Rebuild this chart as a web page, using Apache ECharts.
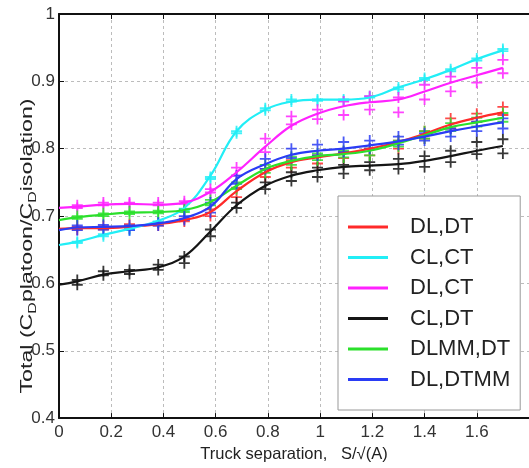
<!DOCTYPE html>
<html><head><meta charset="utf-8">
<script src="https://cdn.jsdelivr.net/npm/echarts@6/dist/echarts.min.js"></script>
<style>html,body{margin:0;padding:0;background:#fff}#c{width:529px;height:468px}</style>
</head><body><div id="c"></div>
<script>
// x positions of the measurement points (S/sqrt(A))
const xPts = [0.07,0.17,0.27,0.38,0.48,0.58,0.68,0.79,0.89,0.99,1.09,1.19,1.30,1.40,1.50,1.60,1.70];
// fitted curve x positions (start at 0)
const fitX = [0,0.07,0.17,0.27,0.38,0.48,0.58,0.68,0.79,0.89,0.99,1.09,1.19,1.30,1.40,1.50,1.60,1.70];

const names = ['DL,DT','CL,CT','DL,CT','CL,DT','DLMM,DT','DL,DTMM'];

// fitted curves
const fitDLDT   = [0.681,0.682,0.682,0.684,0.688,0.694,0.706,0.737,0.765,0.780,0.787,0.793,0.800,0.810,0.822,0.836,0.846,0.854];
const fitCLCT   = [0.657,0.662,0.672,0.681,0.693,0.712,0.760,0.826,0.858,0.870,0.873,0.873,0.876,0.891,0.903,0.917,0.933,0.946];
const fitDLCT   = [0.712,0.714,0.717,0.718,0.717,0.720,0.736,0.765,0.803,0.834,0.852,0.863,0.869,0.873,0.885,0.898,0.909,0.920];
const fitCLDT   = [0.598,0.603,0.613,0.618,0.624,0.640,0.677,0.716,0.745,0.760,0.768,0.773,0.775,0.777,0.782,0.789,0.797,0.804];
const fitDLMMDT = [0.694,0.698,0.702,0.705,0.706,0.709,0.721,0.745,0.770,0.782,0.789,0.792,0.797,0.808,0.820,0.832,0.839,0.846];
const fitDLDTMM = [0.679,0.683,0.684,0.685,0.689,0.697,0.714,0.755,0.777,0.791,0.797,0.800,0.805,0.811,0.818,0.826,0.833,0.839];

// measured points (upper and lower cross at each x)
const ptsDLDT_hi   = [0.684,0.685,0.688,0.690,0.696,0.710,0.742,0.770,0.783,0.790,0.795,0.800,0.812,0.826,0.845,0.852,0.862];
const ptsDLDT_lo   = [0.680,0.680,0.682,0.686,0.692,0.700,0.728,0.758,0.772,0.778,0.786,0.790,0.800,0.815,0.830,0.840,0.850];
const ptsCLCT_hi   = [0.662,0.673,0.681,0.692,0.711,0.758,0.826,0.860,0.873,0.873,0.873,0.878,0.891,0.905,0.918,0.934,0.948];
const ptsCLCT_lo   = [0.660,0.670,0.679,0.690,0.709,0.755,0.823,0.857,0.870,0.871,0.871,0.876,0.888,0.902,0.915,0.931,0.945];
const ptsDLCT_hi   = [0.716,0.720,0.720,0.720,0.722,0.740,0.772,0.815,0.848,0.858,0.870,0.878,0.876,0.895,0.907,0.920,0.932];
const ptsDLCT_lo   = [0.712,0.716,0.718,0.716,0.718,0.735,0.760,0.795,0.836,0.844,0.850,0.858,0.854,0.873,0.885,0.898,0.912];
const ptsCLDT_hi   = [0.605,0.618,0.620,0.628,0.640,0.680,0.720,0.750,0.765,0.772,0.776,0.780,0.785,0.789,0.797,0.810,0.814];
const ptsCLDT_lo   = [0.598,0.612,0.614,0.620,0.630,0.670,0.712,0.740,0.752,0.758,0.763,0.768,0.770,0.773,0.780,0.792,0.793];
const ptsDLMMDT_hi = [0.700,0.704,0.707,0.708,0.710,0.724,0.750,0.776,0.788,0.793,0.797,0.800,0.812,0.826,0.838,0.846,0.853];
const ptsDLMMDT_lo = [0.696,0.700,0.703,0.704,0.706,0.716,0.740,0.764,0.776,0.783,0.787,0.790,0.803,0.815,0.826,0.833,0.840];
const ptsDLDTMM_hi = [0.686,0.687,0.686,0.690,0.700,0.720,0.760,0.785,0.800,0.806,0.810,0.812,0.818,0.823,0.830,0.840,0.845];
const ptsDLDTMM_lo = [0.679,0.680,0.679,0.686,0.694,0.705,0.748,0.770,0.786,0.790,0.795,0.800,0.806,0.812,0.818,0.826,0.830];

const xTicks = [0,0.2,0.4,0.6,0.8,1,1.2,1.4,1.6];
const yTicks = [0.4,0.5,0.6,0.7,0.8,0.9,1];

const colors = ['#ff2a2a','#22eef6','#ff22ff','#151515','#2be02b','#2a3cf5'];
const fits = [fitDLDT,fitCLCT,fitDLCT,fitCLDT,fitDLMMDT,fitDLDTMM];
const hiPts = [ptsDLDT_hi,ptsCLCT_hi,ptsDLCT_hi,ptsCLDT_hi,ptsDLMMDT_hi,ptsDLDTMM_hi];
const loPts = [ptsDLDT_lo,ptsCLCT_lo,ptsDLCT_lo,ptsCLDT_lo,ptsDLMMDT_lo,ptsDLDTMM_lo];

const plus = 'path://M5,0H7V5H12V7H7V12H5V7H0V5H5Z';
const FONT = 'Liberation Sans';

const series = [];
names.forEach((n,i)=>{
  series.push({
    name: n + ' pts', type:'scatter', symbol: plus, symbolSize: 11,
    itemStyle:{color: colors[i], opacity: 0.85}, silent:true, z:3,
    data: xPts.map((x,k)=>[x,hiPts[i][k]]).concat(xPts.map((x,k)=>[x,loPts[i][k]]))
  });
});
names.forEach((n,i)=>{
  series.push({
    name: n, type:'line', smooth: 0.4, showSymbol:false, symbol:'none', z:4,
    lineStyle:{color: colors[i], width: 2.2}, itemStyle:{color: colors[i]},
    data: fitX.map((x,k)=>[x,fits[i][k]])
  });
});

const chart = echarts.init(document.getElementById('c'), null, {renderer:'canvas'});
chart.setOption({
  animation:false,
  backgroundColor:'#fff',
  grid:{left:59, top:14, bottom:47, right:-6, containLabel:false},
  xAxis:[{
    type:'value', min:0, max:1.8, interval:0.2, position:'bottom',
    name:'Truck separation,   S/\u221A(A)', nameLocation:'middle', nameGap:26,
    nameTextStyle:{fontSize:16.5, color:'#222', fontFamily:FONT},
    axisLine:{show:true, onZero:false, lineStyle:{color:'#111', width:2}},
    axisTick:{show:true, inside:true, length:5, lineStyle:{color:'#111'}},
    axisLabel:{fontSize:17, color:'#333', fontFamily:FONT, margin:6, showMaxLabel:false,
      formatter: v => (xTicks.some(t=>Math.abs(t-v)<1e-9) ? String(+v.toFixed(1)) : '')},
    splitLine:{show:true, lineStyle:{color:'#bcbcbc', type:[3,3], width:1}}
  },{
    type:'value', min:0, max:1.8, interval:0.2, position:'top',
    axisLine:{show:true, onZero:false, lineStyle:{color:'#111', width:2}},
    axisTick:{show:true, inside:true, length:5, lineStyle:{color:'#111'}},
    axisLabel:{show:false}, splitLine:{show:false}
  }],
  yAxis:{
    type:'value', min:0.4, max:1, interval:0.1,
    axisLine:{show:true, onZero:false, lineStyle:{color:'#111', width:2}},
    axisTick:{show:true, inside:true, length:5, lineStyle:{color:'#111'}},
    axisLabel:{fontSize:17, color:'#333', fontFamily:FONT, margin:4,
      formatter: v => (Math.abs(v-1)<1e-9 ? '1' : v.toFixed(1))},
    splitLine:{show:true, lineStyle:{color:'#bcbcbc', type:[3,3], width:1}}
  },
  legend:{
    orient:'vertical', left:338, top:196,
    data: names.map(n=>({name:n, icon:'rect'})),
    itemWidth:40, itemHeight:3, itemGap:8.5,
    padding:[20,10,19.5,10],
    backgroundColor:'#fff', borderColor:'#999', borderWidth:1,
    textStyle:{fontSize:22, lineHeight:22, color:'#222', fontFamily:FONT, padding:[0,0,0,17]},
    selectedMode:false
  },
  graphic:[{
    type:'text', x:28, y:246, rotation:Math.PI/2, scaleX:1.45, z:10,
    style:{
      text:'Total (C{s|D}platoon/C{s|D}isolation)',
      font:'16px "Liberation Sans"', fill:'#222', align:'center', verticalAlign:'middle',
      rich:{s:{fontSize:11, fontFamily:FONT, fill:'#222', padding:[9,0,0,0]}}
    }
  }],
  series: series
});
</script></body></html>
